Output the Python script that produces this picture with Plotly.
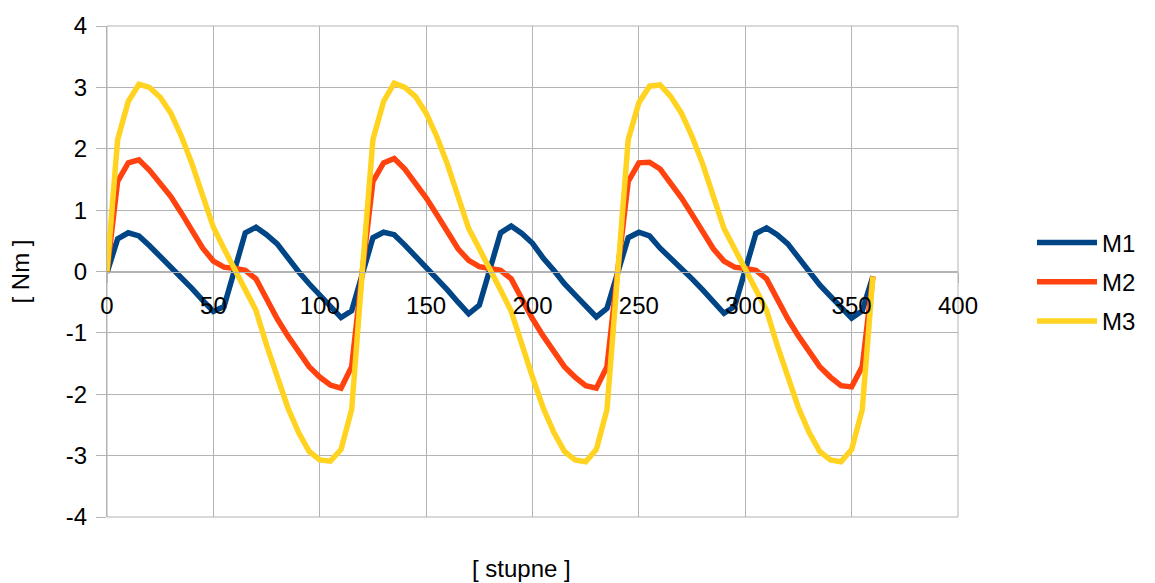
import plotly.graph_objects as go

degrees = [0, 5, 10, 15, 20, 25, 30, 35, 40, 45, 50, 55, 60, 65, 70, 75, 80, 85, 90, 95,
           100, 105, 110, 115, 120, 125, 130, 135, 140, 145, 150, 155, 160, 165, 170, 175,
           180, 185, 190, 195, 200, 205, 210, 215, 220, 225, 230, 235, 240, 245, 250, 255,
           260, 265, 270, 275, 280, 285, 290, 295, 300, 305, 310, 315, 320, 325, 330, 335,
           340, 345, 350, 355, 360]

M1 = [-0.02, 0.53, 0.63, 0.58, 0.42, 0.25, 0.08, -0.10, -0.28, -0.47, -0.65, -0.57,
      0.02, 0.63, 0.72, 0.60, 0.45, 0.22, 0.00, -0.20, -0.38, -0.55, -0.75, -0.64,
      -0.02, 0.55, 0.64, 0.60, 0.43, 0.25, 0.08, -0.10, -0.30, -0.50, -0.69, -0.55,
      0.03, 0.63, 0.74, 0.62, 0.46, 0.22, 0.02, -0.20, -0.38, -0.56, -0.74, -0.60,
      -0.02, 0.55, 0.64, 0.58, 0.38, 0.22, 0.05, -0.12, -0.30, -0.50, -0.68, -0.57,
      0.03, 0.62, 0.71, 0.60, 0.45, 0.23, 0.01, -0.22, -0.40, -0.58, -0.76, -0.64,
      -0.08]

M2 = [0.0, 1.47, 1.77, 1.82, 1.65, 1.45, 1.22, 0.95, 0.66, 0.38, 0.17, 0.07,
      0.05, 0.02, -0.12, -0.45, -0.77, -1.05, -1.30, -1.55, -1.72, -1.85, -1.90, -1.55,
      0.0, 1.47, 1.77, 1.84, 1.67, 1.45, 1.20, 0.93, 0.63, 0.37, 0.18, 0.08,
      0.05, 0.02, -0.12, -0.45, -0.77, -1.05, -1.30, -1.55, -1.72, -1.86, -1.90, -1.55,
      0.0, 1.47, 1.77, 1.78, 1.67, 1.45, 1.20, 0.93, 0.63, 0.37, 0.17, 0.07,
      0.05, 0.02, -0.12, -0.45, -0.77, -1.05, -1.30, -1.55, -1.72, -1.86, -1.88, -1.55,
      -0.08]

M3 = [0.0, 2.15, 2.77, 3.05, 3.00, 2.84, 2.58, 2.20, 1.75, 1.25, 0.72, 0.37,
      0.05, -0.30, -0.63, -1.20, -1.72, -2.22, -2.62, -2.93, -3.07, -3.09, -2.90, -2.25,
      0.0, 2.15, 2.77, 3.07, 3.00, 2.85, 2.58, 2.20, 1.75, 1.22, 0.70, 0.37,
      0.05, -0.30, -0.65, -1.20, -1.72, -2.22, -2.62, -2.93, -3.07, -3.10, -2.90, -2.25,
      0.0, 2.15, 2.75, 3.02, 3.04, 2.85, 2.58, 2.20, 1.75, 1.22, 0.70, 0.37,
      0.05, -0.30, -0.63, -1.20, -1.72, -2.22, -2.62, -2.93, -3.07, -3.10, -2.90, -2.25,
      -0.08]

x_ticks = [0, 50, 100, 150, 200, 250, 300, 350, 400]
y_ticks = [-4, -3, -2, -1, 0, 1, 2, 3, 4]
y_tick_labels = ["-4", "-3", "-2", "-1", "0", "1", "2", "3", "4"]

series = [("M1", M1, "#004586"), ("M2", M2, "#ff420e"), ("M3", M3, "#ffd320")]

FONT = "Liberation Sans, Arial, sans-serif"
GRID = "#b3b3b3"
FS = 24

fig = go.Figure()
for i, (name, vals, color) in enumerate(series):
    fig.add_trace(go.Scatter(x=degrees, y=vals, name=name, mode="lines",
                             line=dict(color=color, width=5.5),
                             legendgroup=str(i)))

fig.update_layout(
    width=1155, height=583,
    margin=dict(l=107, r=197, t=24, b=66),
    paper_bgcolor="white", plot_bgcolor="white",
    font=dict(family=FONT, size=FS, color="black"),
    showlegend=True,
    legend=dict(xref="container", yref="container", x=1032 / 1155, y=1 - 282 / 583,
                xanchor="left", yanchor="middle", tracegroupgap=5, itemwidth=60,
                font=dict(size=FS), bgcolor="rgba(0,0,0,0)"),
    xaxis=dict(range=[0, 400], tickvals=x_ticks, showgrid=True, gridcolor=GRID,
               gridwidth=1, zeroline=False, showline=True, linecolor=GRID,
               anchor="free", position=0.5, ticks="outside", ticklen=10,
               tickcolor=GRID, ticklabelstandoff=3),
    yaxis=dict(range=[-4, 4], tickvals=y_ticks, ticktext=y_tick_labels, showgrid=True,
               gridcolor=GRID, gridwidth=1, zeroline=False, showline=True,
               linecolor=GRID, ticks="outside", ticklen=10, tickcolor=GRID,
               ticklabelstandoff=4),
    annotations=[
        dict(text="[ stupne ]", xref="paper", yref="paper", x=(521 - 107) / 851,
             y=-(569 - 517) / 493, xanchor="center", yanchor="middle",
             showarrow=False, font=dict(size=FS)),
        dict(text="[ Nm ]", xref="paper", yref="paper", x=(20 - 107) / 851,
             y=0.5, xanchor="center", yanchor="middle", textangle=-90,
             showarrow=False, font=dict(size=FS)),
    ],
    shapes=[dict(type="rect", xref="paper", yref="paper", x0=0, x1=1, y0=0, y1=1,
                 line=dict(color=GRID, width=1), fillcolor="rgba(0,0,0,0)",
                 layer="below")],
)

fig.write_html("out.html")
